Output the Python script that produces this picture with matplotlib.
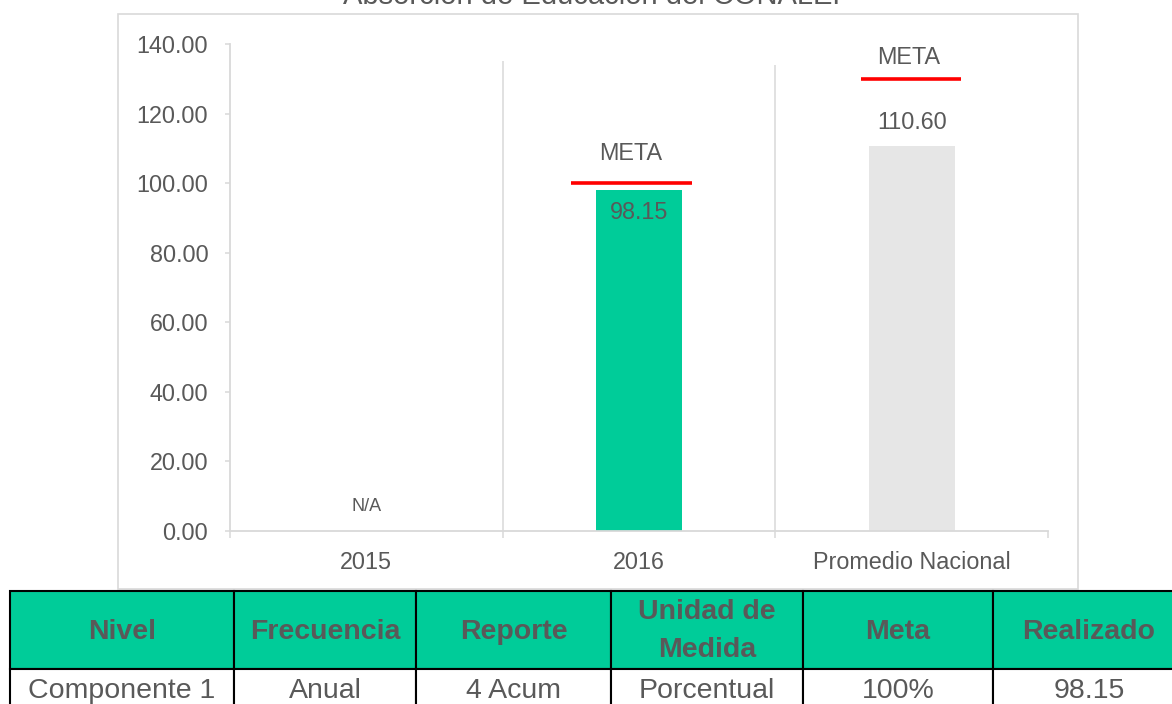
import matplotlib
matplotlib.use('Agg')
import matplotlib.pyplot as plt
import numpy as np
from matplotlib.patches import Rectangle
from matplotlib.ticker import FormatStrFormatter

plt.rcParams['font.family'] = ['Liberation Sans', 'DejaVu Sans']

# ---------------- data ----------------
title = 'Absorción de Educación del CONALEP'
categories = ['2015', '2016', 'Promedio Nacional']
values = [np.nan, 98.15, 110.60]
value_labels = ['N/A', '98.15', '110.60']
meta_values = [np.nan, 100.0, 130.0]
meta_label = 'META'
y_ticks = [0, 20, 40, 60, 80, 100, 120, 140]

table_headers = ['Nivel', 'Frecuencia', 'Reporte', 'Unidad de\nMedida', 'Meta', 'Realizado']
table_row = ['Componente 1', 'Anual', '4 Acum', 'Porcentual', '100%', '98.15']

# ---------------- style ----------------
W, H = 1172, 704
GREEN = '#00CC99'
GRAY_BAR = '#E6E6E6'
TXT = '#595959'
AXC = '#D9D9D9'
bar_colors = [GREEN, GREEN, GRAY_BAR]


def fx(px):
    return px / W


def fy(py):
    return 1 - py / H


fig = plt.figure(figsize=(W / 100, H / 100), dpi=100)

# chart border box
fig.patches.append(Rectangle((fx(118), fy(589)), fx(1078) - fx(118), fy(14) - fy(589),
                             transform=fig.transFigure, fill=False,
                             edgecolor=AXC, linewidth=1.2))
fig.text(fx(597), fy(4), title, ha='center', va='baseline', fontsize=21, color=TXT)

ax = fig.add_axes([fx(230), fy(531), fx(1048) - fx(230), fy(44) - fy(531)])
ax.set_xlim(-0.5, 2.5)
ax.set_ylim(0, 140)
x = np.arange(len(categories))

# vertical separators
ax.vlines([0.5, 1.5], 0, [135, 134], color=AXC, linewidth=1.1, zorder=1)

ax.bar(x, values, width=0.316, color=bar_colors, zorder=2)

# meta lines
meta_shift = [0.0, -0.028, -0.002]
meta_half = [0.2, 0.222, 0.182]
for i, m in enumerate(meta_values):
    if np.isnan(m):
        continue
    ax.hlines(m, x[i] + meta_shift[i] - meta_half[i], x[i] + meta_shift[i] + meta_half[i],
              color='#FF0000', linewidth=2.6, zorder=3)

# META labels
meta_text_off = [0, 21, 15]
meta_text_dx = [0, -6, -2]
for i, m in enumerate(meta_values):
    if np.isnan(m):
        continue
    ax.annotate(meta_label, (x[i], m), xytext=(meta_text_dx[i], meta_text_off[i]),
                textcoords='offset points', ha='center', va='center',
                fontsize=16.8, color=TXT, zorder=4)

# value labels
label_off = [17.3, -16.5, 17.3]
label_size = [13, 16.8, 16.8]
for i, v in enumerate(values):
    base = 0 if np.isnan(v) else v
    ax.annotate(value_labels[i], (x[i], base), xytext=(0, label_off[i]),
                textcoords='offset points', ha='center', va='center',
                fontsize=label_size[i], color=TXT, zorder=4)

for s in ['top', 'right']:
    ax.spines[s].set_visible(False)
for s in ['left', 'bottom']:
    ax.spines[s].set_color(AXC)
    ax.spines[s].set_linewidth(1.3)

ax.set_yticks(y_ticks)
ax.yaxis.set_major_formatter(FormatStrFormatter('%.2f'))
ax.tick_params(axis='y', length=3.6, width=1.1, color=AXC, pad=12,
               labelsize=16.8, labelcolor=TXT)
ax.set_xticks([-0.5, 0.5, 1.5, 2.5])
ax.set_xticklabels([])
ax.tick_params(axis='x', which='major', length=5, width=1.1, color=AXC)
ax.set_xticks(x, minor=True)
ax.set_xticklabels(categories, minor=True)
ax.tick_params(axis='x', which='minor', length=0, pad=14.4,
               labelsize=16.8, labelcolor=TXT)

# ---------------- table ----------------
tax = fig.add_axes([0, 0, 1, 1], zorder=5)
tax.set_xlim(0, W)
tax.set_ylim(H, 0)
tax.axis('off')
tax.patch.set_alpha(0)

col_edges = [10, 234, 416, 611, 803, 993, 1185]
hdr_top, hdr_bot, row_bot = 591, 669, 715
for j in range(len(table_headers)):
    x0, x1 = col_edges[j], col_edges[j + 1]
    tax.add_patch(Rectangle((x0, hdr_top), x1 - x0, hdr_bot - hdr_top,
                            facecolor=GREEN, edgecolor='black', linewidth=1.5))
    tax.add_patch(Rectangle((x0, hdr_bot), x1 - x0, row_bot - hdr_bot,
                            facecolor='white', edgecolor='black', linewidth=1.5))
    xc = (x0 + x1) / 2
    lines = table_headers[j].split('\n')
    if len(lines) == 1:
        tax.text(xc, 639, lines[0], ha='center', va='baseline', fontsize=20.5,
                 fontweight='bold', color=TXT)
    else:
        for k, ln in enumerate(lines):
            tax.text(xc, 619 + 38 * k, ln, ha='center', va='baseline', fontsize=20.5,
                     fontweight='bold', color=TXT)
    tax.text(xc, 698, table_row[j], ha='center', va='baseline', fontsize=20.5, color=TXT)

fig.savefig('out.png', dpi=100)
